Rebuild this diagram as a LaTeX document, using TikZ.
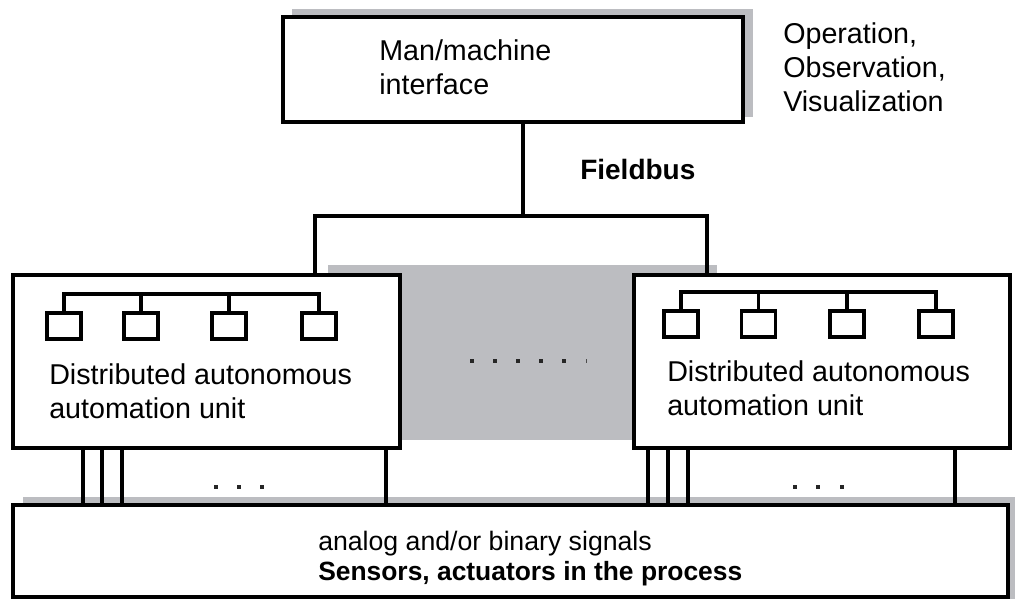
\documentclass[tikz,border=0pt]{standalone}
\usepackage{fontspec}
\setmainfont{Liberation Sans}
\begin{document}
\begin{tikzpicture}[x=0.75pt,y=-0.75pt,
  frame/.style={draw=black, line width=2.4pt, fill=white, inner sep=0pt, outer sep=0pt},
  wire/.style={line width=2.4pt, line cap=rect},
  module/.style={draw=black, line width=2.4pt, fill=white, inner sep=0pt, minimum width=25.5pt, minimum height=19.5pt},
  dotmark/.style={fill=black!85, draw=none, minimum size=3pt, inner sep=0pt},
  txt/.style={anchor=base west, align=left, inner sep=0pt, font=\fontsize{21.5}{25.5}\selectfont},
  btxt/.style={txt, font=\fontsize{21}{25.5}\selectfont\bfseries},
  stxt/.style={txt, font=\fontsize{20}{24}\selectfont},
  sbtxt/.style={txt, font=\fontsize{19.8}{24}\selectfont\bfseries}]
\definecolor{shadowgray}{RGB}{188,189,193}
\useasboundingbox (0,0) rectangle (1015,599);
% shadows
\fill[shadowgray] (292,9) rectangle (753,117);
\fill[shadowgray] (328,265) rectangle (717,440);
\fill[shadowgray] (23,497) rectangle (1015,599);
% boxes
\node[frame, minimum width=345pt, minimum height=78.75pt] (hmi) at (513,69.5) {};
\node[frame, minimum width=290.25pt, minimum height=129.75pt] (lu) at (206.5,361.5) {};
\node[frame, minimum width=282pt, minimum height=129.75pt] (ru) at (822,361.5) {};
\node[frame, minimum width=746.25pt, minimum height=69pt] (proc) at (510.5,551) {};
% fieldbus
\coordinate (fb) at (523,216);
\coordinate (fbL) at (315,216);
\coordinate (fbR) at (707,216);
\draw[wire] (fb |- hmi.south) -- (fb);
\draw[wire] (fbL |- lu.north) -- (fbL) -- (fbR) -- (fbR |- ru.north);
% left unit modules
\foreach \i/\x in {1/64,2/141,3/229,4/319}{
  \node[module] (lm\i) at (\x,326) {};
}
\coordinate (lbus) at (0,294);
\draw[wire] (lm1.north) -- (lm1.north |- lbus) -- (lm4.north |- lbus) -- (lm4.north);
\draw[wire] (lm2.north) -- (lm2.north |- lbus);
\draw[wire] (lm3.north) -- (lm3.north |- lbus);
% right unit modules
\foreach \i/\x in {1/681,2/758.5,3/847,4/936}{
  \node[module] (rm\i) at (\x,324) {};
}
\coordinate (rbus) at (0,292);
\draw[wire] (rm1.north) -- (rm1.north |- rbus) -- (rm4.north |- rbus) -- (rm4.north);
\draw[wire] (rm2.north) -- (rm2.north |- rbus);
\draw[wire] (rm3.north) -- (rm3.north |- rbus);
% signal lines
\foreach \x in {83,102,122,386,648,668,688,955}{
  \coordinate (s\x) at (\x,470);
  \draw[wire, line cap=butt] (s\x |- lu.south) -- (s\x |- proc.north);
}
% dots
\foreach \x in {216,239,262,795,818,842}{
  \node[dotmark] (d\x) at (\x,487) {};
}
\foreach \x in {472,495,518,541,564}{
  \node[dotmark] (m\x) at (\x,361) {};
}
\draw[line width=0.5pt, black!70] (586,359) -- (586,363);
% texts (base anchor = baseline of the last line)
\node[txt] (t1) at (379,95) {Man/machine\\interface};
\node[txt] (t2) at (783,112) {Operation,\\Observation,\\Visualization};
\node[btxt] (t3) at (580,180) {Fieldbus};
\node[txt] (t4) at (49,418) {Distributed autonomous\\automation unit};
\node[txt] (t5) at (667,415) {Distributed autonomous\\automation unit};
\node[stxt] (t6) at (318,550) {analog and/or binary signals};
\node[sbtxt] (t7) at (318,580) {Sensors, actuators in the process};
\end{tikzpicture}
\end{document}
